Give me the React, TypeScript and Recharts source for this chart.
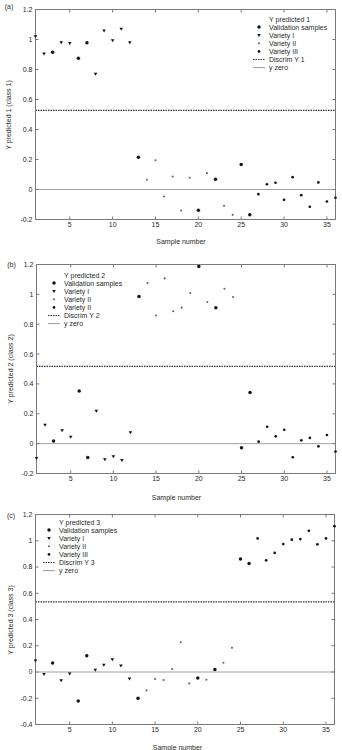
import { ReferenceArea, ReferenceLine, Scatter, ScatterChart, XAxis, YAxis } from 'recharts';

// sample index on the x axis
const SAMPLES = [
  1, 2, 3, 4, 5, 6, 7, 8, 9, 10, 11, 12, 13, 14, 15, 16, 17, 18,
  19, 20, 21, 22, 23, 24, 25, 26, 27, 28, 29, 30, 31, 32, 33, 34, 35, 36,
];

// which marker each sample gets
const GROUPS = [
  'I', 'I', 'val', 'I', 'I', 'val', 'val', 'I', 'I', 'I', 'I', 'I',
  'val', 'II', 'II', 'II', 'II', 'II', 'II', 'val', 'II', 'val', 'II', 'II',
  'val', 'val', 'III', 'III', 'III', 'III', 'III', 'III', 'III', 'III', 'III', 'III',
];

const Y_PRED_1 = [
  1.02, 0.905, 0.915, 0.98, 0.975, 0.875, 0.978, 0.77, 1.058, 0.993, 1.069, 0.98,
  0.215, 0.065, 0.195, -0.047, 0.087, -0.14, 0.078, -0.138, 0.109, 0.069, -0.109, -0.169,
  0.167, -0.169, -0.031, 0.035, 0.045, -0.069, 0.082, -0.038, -0.115, 0.047, -0.08, -0.055,
];
const Y_PRED_2 = [
  -0.098, 0.125, 0.018, 0.087, 0.045, 0.353, -0.093, 0.218, -0.107, -0.087, -0.111, 0.075,
  0.985, 1.076, 0.858, 1.107, 0.887, 0.911, 1.009, 1.187, 0.949, 0.911, 1.038, 0.982,
  -0.027, 0.342, 0.013, 0.113, 0.049, 0.093, -0.091, 0.022, 0.038, -0.018, 0.058, -0.053,
];
const Y_PRED_3 = [
  0.085, -0.018, 0.068, -0.066, -0.013, -0.22, 0.123, 0.015, 0.053, 0.095, 0.048, -0.051,
  -0.2, -0.14, -0.053, -0.061, 0.022, 0.227, -0.087, -0.046, -0.059, 0.02, 0.07, 0.184,
  0.861, 0.826, 1.018, 0.851, 0.907, 0.975, 1.008, 1.013, 1.076, 0.973, 1.018, 1.111,
];

const DISCRIM = [0.527, 0.518, 0.535];

const X_TICKS = [5, 10, 15, 20, 25, 30, 35];
const Y_TICKS_AB = [-0.2, 0, 0.2, 0.4, 0.6, 0.8, 1, 1.2];
const Y_TICKS_C = [-0.4, -0.2, 0, 0.2, 0.4, 0.6, 0.8, 1, 1.2];

const LEGEND_1 = ['Y predicted 1', 'Validation  samples', 'Variety I', 'Variety II', 'Variety III', 'Discrim Y 1', 'y zero'];
const LEGEND_2 = ['Y predicted 2', 'Validation  samples', 'Variety I', 'Variety II', 'Variety II', 'Discrim Y 2', 'y zero'];
const LEGEND_3 = ['Y predicted 3', 'Validation  samples', 'Variety I', 'Variety II', 'Variety III', 'Discrim Y 3', 'y zero'];

const FONT = '"Liberation Sans", Arial, sans-serif';
const AXIS_C = '#7a7a7a';
const TEXT_C = '#2a2a2a';
const INK = '#151515';

type Pt = { x: number; y: number };

const bigDot = (p: any) => <circle cx={p.cx} cy={p.cy} r={1.75} fill={INK} />;
const smallDot = (p: any) => <circle cx={p.cx} cy={p.cy} r={1.35} fill={INK} />;
const greyDot = (p: any) => <circle cx={p.cx} cy={p.cy} r={1.05} fill="#666" />;
const triDown = (p: any) => (
  <path d={`M${p.cx - 1.8},${p.cy - 1.3}L${p.cx + 1.8},${p.cy - 1.3}L${p.cx},${p.cy + 1.7}Z`} fill={INK} />
);
const blank = () => '';

function pick(values: number[], g: string): Pt[] {
  return SAMPLES.map((x, i) => ({ x, y: values[i] })).filter((_, i) => GROUPS[i] === g);
}

function all(values: number[]): Pt[] {
  return SAMPLES.map((x, i) => ({ x, y: values[i] }));
}

function Marker({ kind, cx, cy }: { kind: string; cx: number; cy: number }) {
  if (kind === 'val') return bigDot({ cx, cy });
  if (kind === 'I') return triDown({ cx, cy });
  if (kind === 'II') return greyDot({ cx, cy });
  if (kind === 'III') return smallDot({ cx, cy });
  return null;
}

function LegendBlock({ left, top, labels }: { left: number; top: number; labels: string[] }) {
  const kinds = ['', 'val', 'I', 'II', 'III', 'discrim', 'zero'];
  const tx = 18;
  return (
    <svg width={90} height={62} style={{ position: 'absolute', left: left - tx, top: top - 4 }}>
      {labels.map((l, i) => {
        const cy = 4 + i * 8.1;
        const k = kinds[i];
        return (
          <g key={i}>
            {k === 'discrim' && <line x1={2} x2={14} y1={cy} y2={cy} stroke="#333" strokeDasharray="1.5 1" />}
            {k === 'zero' && <line x1={2} x2={14} y1={cy} y2={cy} stroke="#999" />}
            <Marker kind={k} cx={8} cy={cy} />
            <text x={tx} y={cy} dominantBaseline="central" fontSize={7} fill={TEXT_C} fontFamily={FONT}>
              {l}
            </text>
          </g>
        );
      })}
    </svg>
  );
}

function Panel({
  values,
  discrim,
  yTicks,
  yDomain,
  mt,
  xh,
  yw,
  mr,
}: {
  values: number[];
  discrim: number;
  yTicks: number[];
  yDomain: [number, number];
  mt: number;
  xh: number;
  yw: number;
  mr: number;
}) {
  const tickStyle = { fill: TEXT_C, fontSize: 7, fontFamily: FONT };
  // half-pixel offsets keep the 1px frame crisp
  return (
    <ScatterChart width={342} height={250} margin={{ top: mt - 0.5, right: mr - 0.5, bottom: 0.5, left: 0 }}>
      <XAxis
        dataKey="x"
        type="number"
        domain={[1, 36]}
        ticks={X_TICKS}
        height={xh}
        stroke={AXIS_C}
        tickSize={-3}
        tickMargin={6}
        tick={tickStyle}
      />
      <XAxis
        xAxisId="top"
        orientation="top"
        dataKey="x"
        type="number"
        domain={[1, 36]}
        ticks={X_TICKS}
        height={1}
        stroke={AXIS_C}
        tickSize={-3}
        tickFormatter={blank}
      />
      <YAxis
        dataKey="y"
        type="number"
        domain={yDomain}
        ticks={yTicks}
        width={yw + 0.5}
        stroke={AXIS_C}
        tickSize={-3}
        tickMargin={6}
        tick={tickStyle}
      />
      <YAxis
        yAxisId="right"
        orientation="right"
        dataKey="y"
        type="number"
        domain={yDomain}
        ticks={yTicks}
        width={1}
        stroke={AXIS_C}
        tickSize={-3}
        tickFormatter={blank}
      />
      <Scatter xAxisId="top" yAxisId="right" data={all(values)} fill="none" isAnimationActive={false} />
      <Scatter data={pick(values, 'I')} shape={triDown} isAnimationActive={false} />
      <Scatter data={pick(values, 'II')} shape={greyDot} isAnimationActive={false} />
      <Scatter data={pick(values, 'III')} shape={smallDot} isAnimationActive={false} />
      <Scatter data={pick(values, 'val')} shape={bigDot} isAnimationActive={false} />
      <ReferenceArea x1={1} x2={36} y1={yDomain[0]} y2={yDomain[1]} fill="none" stroke={AXIS_C} strokeWidth={1} />
      <ReferenceLine y={0} stroke="#a0a0a0" strokeWidth={1} />
      <ReferenceLine y={discrim} stroke="#333" strokeWidth={1.3} strokeDasharray="1.5 1" />
    </ScatterChart>
  );
}

const abs = (left: number, top: number): React.CSSProperties => ({
  position: 'absolute',
  left,
  top,
  transform: 'translate(-50%, -50%)',
  whiteSpace: 'nowrap',
  fontFamily: FONT,
  fontSize: 7,
  color: TEXT_C,
  lineHeight: 1,
});

const vlab = (left: number, top: number): React.CSSProperties => ({
  ...abs(left, top),
  transform: 'translate(-50%, -50%) rotate(-90deg)',
});

export default function App() {
  return (
    <div style={{ position: 'absolute', left: 0, top: 0, width: 342, height: 750, background: '#fff', overflow: 'hidden' }}>
      <div style={{ position: 'absolute', left: 0, top: 0 }}>
        <Panel values={Y_PRED_1} discrim={DISCRIM[0]} yTicks={Y_TICKS_AB} yDomain={[-0.2, 1.2]} mt={9} xh={30} yw={35} mr={6} />
      </div>
      <div style={{ position: 'absolute', left: 0, top: 250 }}>
        <Panel values={Y_PRED_2} discrim={DISCRIM[1]} yTicks={Y_TICKS_AB} yDomain={[-0.2, 1.2]} mt={14} xh={26} yw={36} mr={6} />
      </div>
      <div style={{ position: 'absolute', left: 0, top: 500 }}>
        <Panel values={Y_PRED_3} discrim={DISCRIM[2]} yTicks={Y_TICKS_C} yDomain={[-0.4, 1.2]} mt={14} xh={25} yw={35} mr={7} />
      </div>

      <div style={abs(9, 6)}>(a)</div>
      <div style={abs(11.5, 264)}>(b)</div>
      <div style={abs(11, 514.5)}>(c)</div>

      <div style={vlab(8, 114.5)}>Y predicted 1 (class 1)</div>
      <div style={vlab(9.5, 369)}>Y predicted 2 (class 2)</div>
      <div style={vlab(9.5, 619.5)}>Y predicted 3  (class 3)</div>

      <div style={abs(181, 240.7)}>Sample number</div>
      <div style={abs(176.5, 497.3)}>Sample number</div>
      <div style={abs(177.5, 746.5)}>Sample number</div>

      <LegendBlock left={269} top={19.3} labels={LEGEND_1} />
      <LegendBlock left={63.7} top={274.7} labels={LEGEND_2} />
      <LegendBlock left={59} top={521.7} labels={LEGEND_3} />
    </div>
  );
}
